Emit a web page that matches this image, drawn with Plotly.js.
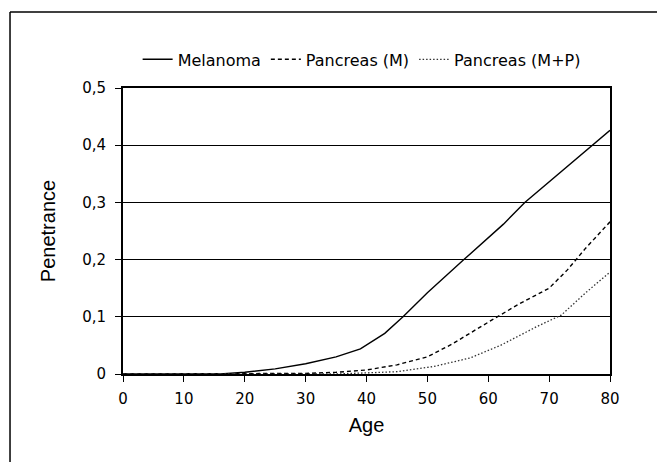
<!DOCTYPE html>
<html>
<head>
<meta charset="utf-8">
<script src="https://cdn.plot.ly/plotly-3.0.1.min.js"></script>
<style>html,body{margin:0;padding:0;background:#fff;}#chart{width:657px;height:462px;}</style>
</head>
<body>
<div id="chart"></div>
<script>
var melanomaAge = [0, 16, 20, 25, 30, 35, 39, 43, 46, 50, 56, 62.5, 66, 71, 77, 80];
var melanomaPen = [0, 0, 0.003, 0.009, 0.018, 0.03, 0.044, 0.071, 0.1, 0.142, 0.2, 0.262, 0.3, 0.345, 0.4, 0.426];
var pancMAge = [0, 25, 30, 35, 40, 45, 50, 54, 59, 61, 65, 70, 73, 76, 80];
var pancMPen = [0, 0, 0.001, 0.003, 0.007, 0.016, 0.03, 0.052, 0.085, 0.097, 0.122, 0.15, 0.182, 0.22, 0.266];
var pancMPAge = [0, 35, 40, 45, 51, 57, 62, 68, 72, 76, 80];
var pancMPPen = [0, 0, 0.002, 0.004, 0.013, 0.028, 0.05, 0.083, 0.103, 0.142, 0.178];
var seriesNames = ["Melanoma", "Pancreas (M)", "Pancreas (M+P)"];

var traces = [
  {x: melanomaAge, y: melanomaPen, name: seriesNames[0], mode: "lines", line: {color: "#000", width: 1.4, dash: "solid"}},
  {x: pancMAge, y: pancMPen, name: seriesNames[1], mode: "lines", line: {color: "#000", width: 1.4, dash: "4px,3px"}},
  {x: pancMPAge, y: pancMPPen, name: seriesNames[2], mode: "lines", line: {color: "#333", width: 1.3, dash: "1.5px,2px"}}
];

var layout = {
  width: 657, height: 462,
  margin: {l: 123, r: 47, t: 88, b: 88},
  paper_bgcolor: "#fff", plot_bgcolor: "#fff",
  separators: ", ",
  showlegend: true,
  legend: {orientation: "h", x: 0.49, xanchor: "center", y: 1.1, yanchor: "middle",
           font: {family: "DejaVu Sans", size: 16, color: "#000"}, bgcolor: "rgba(0,0,0,0)"},
  xaxis: {range: [0, 80], dtick: 10, tick0: 0, showgrid: false, zeroline: false,
          showline: true, linecolor: "#000", linewidth: 2, mirror: true,
          ticks: "outside", ticklen: 6, tickwidth: 1, tickcolor: "#000",
          tickfont: {family: "DejaVu Sans", size: 15, color: "#000"}, ticklabelstandoff: 4,
          title: {text: "Age", font: {family: "Liberation Sans", size: 20, color: "#000"}, standoff: 11},
          automargin: false},
  yaxis: {range: [0, 0.5], dtick: 0.1, tick0: 0, showgrid: true, gridcolor: "#000", gridwidth: 1,
          zeroline: false, showline: true, linecolor: "#000", linewidth: 2, mirror: true,
          ticks: "outside", ticklen: 6, tickwidth: 1, tickcolor: "#000",
          tickfont: {family: "DejaVu Sans", size: 15, color: "#000"}, ticklabelstandoff: 6,
          title: {text: "Penetrance", font: {family: "Liberation Sans", size: 20, color: "#000"}, standoff: 21},
          automargin: false},
  shapes: [
    {type: "line", xref: "paper", yref: "paper", x0: -0.232, x1: 1.2, y0: 1.2657, y1: 1.2657, line: {color: "#000", width: 1.5}},
    {type: "line", xref: "paper", yref: "paper", x0: -0.232, x1: -0.232, y0: 1.2657, y1: -0.5, line: {color: "#000", width: 1.5}}
  ]
};

Plotly.newPlot("chart", traces, layout, {displayModeBar: false, staticPlot: true});
</script>
</body>
</html>
